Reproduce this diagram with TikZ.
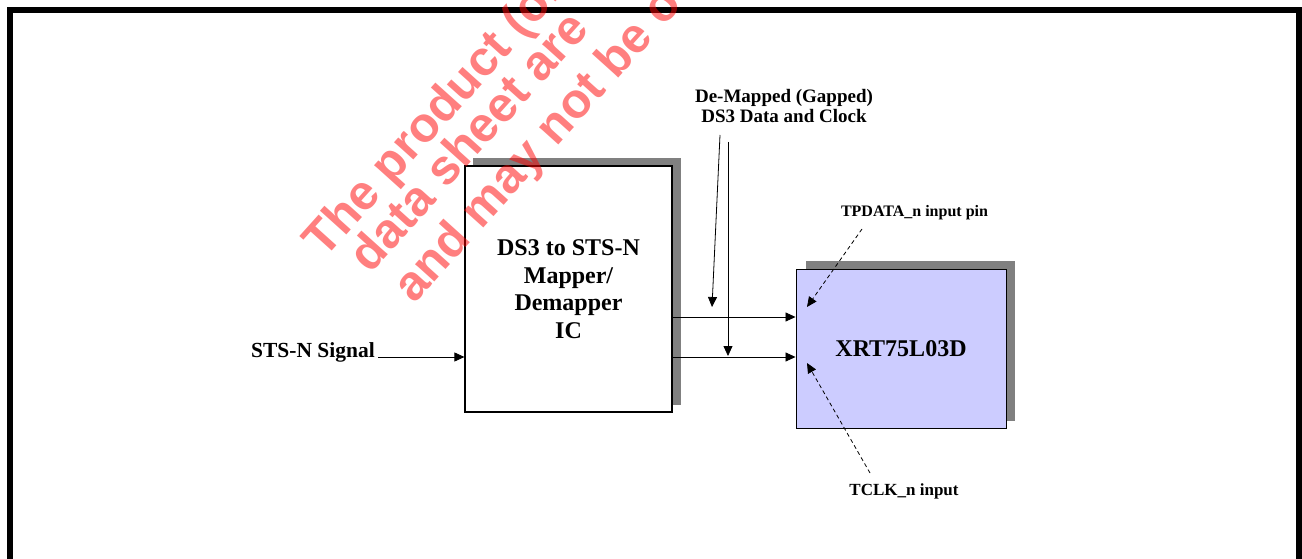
\documentclass[tikz,border=0pt]{standalone}
\usepackage{fontspec}
\setmainfont{Liberation Serif}
\newfontfamily\wmfont{Liberation Sans}
\usetikzlibrary{arrows.meta,calc}
\definecolor{lav}{RGB}{204,204,255}
\definecolor{shade}{RGB}{128,128,128}
\begin{document}
\begin{tikzpicture}[x=1pt,y=-1pt,
  box/.style={draw=black,line width=1.2pt,inner sep=0,align=center,font=\bfseries\fontsize{24}{27.5}\selectfont},
  shadowbox/.style={fill=shade,draw=none},
  lbl/.style={font=\bfseries\fontsize{19}{20.5}\selectfont,align=center,inner sep=0},
  lblbig/.style={font=\bfseries\fontsize{21.5}{24}\selectfont,align=center,inner sep=0},
  lblsmall/.style={font=\bfseries\fontsize{16}{18}\selectfont,align=center,inner sep=0},
  arr/.style={-{Triangle[length=10pt,width=9pt]},line width=0.8pt},
  darr/.style={arr,dash pattern=on 4pt off 3pt},
  wm/.style={font=\wmfont\bfseries\fontsize{49}{55}\selectfont,text=red,text opacity=0.5,rotate=48,anchor=base west,inner sep=0}
]
\useasboundingbox (0,0) rectangle (1302,559);
\clip (0,0) rectangle (1302,559);
\fill[white] (0,0) rectangle (1302,559);

% mapper block
\fill[shadowbox] (473,158) rectangle (681,405);
\node[box,fill=white,minimum width=207pt,minimum height=246pt] (map) at (568.5,289)
  {DS3 to STS-N\\Mapper/\\Demapper\\IC};

% XRT block
\fill[shadowbox] (806,261) rectangle (1015,421);
\node[box,fill=lav,line width=0.9pt,minimum width=210pt,minimum height=159pt] (xrt) at (901,348.5) {XRT75L03D};

% labels
\node[lblbig] (sts) at (313,352) {STS-N Signal};
\node[lbl] (dm) at (784,106) {De-Mapped (Gapped)\\DS3 Data and Clock};
\node[lblsmall] (tp) at (914.5,213) {TPDATA\_n input pin};
\node[lblsmall,font=\bfseries\fontsize{17}{19}\selectfont] (tc) at (904,491) {TCLK\_n input};

% connectors
\coordinate (s0) at (378,357);
\draw[arr] (s0) -- (s0 -| map.west);
\coordinate (y1) at (0,317);
\coordinate (y2) at (0,357);
\draw[arr] (map.east |- y1) -- (xrt.west |- y1);
\draw[arr] (map.east |- y2) -- (xrt.west |- y2);
\coordinate (v1s) at (720,135);
\coordinate (v1e) at (712,307);
\draw[arr] (v1s) -- (v1e);
\coordinate (v2s) at (728,142);
\coordinate (v2e) at (728,356);
\draw[arr] (v2s) -- (v2e);
\coordinate (t1s) at (862,229);
\coordinate (t1e) at (807,307);
\draw[darr] (t1s) -- (t1e);
\coordinate (t2s) at (870,473);
\coordinate (t2e) at (807,363);
\draw[darr] (t2s) -- (t2e);

% frame
\draw[line width=6pt,line join=miter] (10,575) -- (10,10) -- (1299,10) -- (1299,575);

% watermark
\node[wm] (w1) at (324,260) {The product (or};
\node[wm] (w2) at (370,275) {data sheet are};
\node[wm] (w3) at (414,305) {and may not be o};
\end{tikzpicture}
\end{document}
